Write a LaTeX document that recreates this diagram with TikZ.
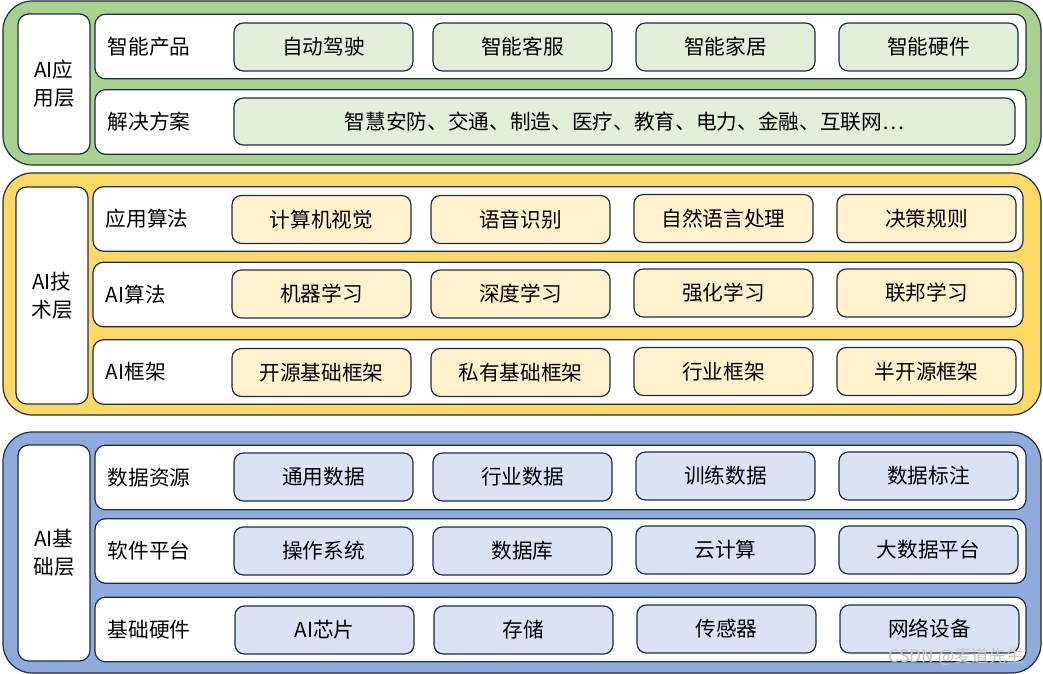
\documentclass[tikz,border=0pt]{standalone}
\usepackage{fontspec}
\setmainfont{Noto Sans CJK SC}
\definecolor{edge}{HTML}{1F2B47}
\definecolor{gpanel}{HTML}{A9D18E}
\definecolor{gitem}{HTML}{E2EFDA}
\definecolor{ypanel}{HTML}{FFD966}
\definecolor{yitem}{HTML}{FFF2CC}
\definecolor{bpanel}{HTML}{8FAADC}
\definecolor{bitem}{HTML}{DAE3F3}
\tikzset{
  base/.style={draw=edge, line width=0.9pt, inner sep=0pt, outer sep=0pt, font=\fontsize{15.5}{19}\selectfont},
  panel/.style={base, rounded corners=22pt, minimum width=778.5pt},
  labelbox/.style={base, fill=white, rounded corners=8pt, minimum width=54pt, align=center},
  rowbox/.style={base, fill=white, rounded corners=8pt, minimum height=48.5pt},
  itembox/.style={base, rounded corners=7pt, minimum width=134.25pt, minimum height=36pt},
  rowlabel/.style={inner sep=0pt, anchor=west, font=\fontsize{15.5}{19}\selectfont}
}
\begin{document}
\begin{tikzpicture}[x=0.75pt,y=-0.75pt]
\useasboundingbox[fill=white] (0,0) rectangle (1043,674);
% ===== green =====
\node[panel, fill=gpanel, minimum height=123pt] (gp) at (522,83) {};
\node[labelbox, minimum height=105pt] (gl) at (54,84) {AI应\\[2pt]用层};
\node[rowbox, minimum width=698.25pt] (gr1) at (560.5,46.5) {};
\node[rowbox, minimum width=698.25pt] (gr2) at (560.5,122) {};
\node[rowlabel] (grl1) at ([xshift=9.5pt]gr1.west) {智能产品};
\node[rowlabel] (grl2) at ([xshift=9.5pt]gr2.west) {解决方案};
\node[itembox, fill=gitem] (g1) at (323.5,47) {自动驾驶};
\node[itembox, fill=gitem] (g2) at (522.5,47) {智能客服};
\node[itembox, fill=gitem] (g3) at (725.5,47) {智能家居};
\node[itembox, fill=gitem] (g4) at (928.5,47) {智能硬件};
\node[itembox, fill=gitem, minimum width=585.75pt, minimum height=35.25pt] (g5) at (624.5,121.5) {智慧安防、交通、制造、医疗、教育、电力、金融、互联网…};
% ===== yellow =====
\node[panel, fill=ypanel, minimum height=181.5pt] (yp) at (522,294) {};
\node[labelbox, minimum height=162.75pt] (yl) at (52,295.5) {AI技\\[2pt]术层};
\node[rowbox, minimum width=697.5pt] (yr1) at (558,219) {};
\node[rowbox, minimum width=697.5pt] (yr2) at (558,294.5) {};
\node[rowbox, minimum width=697.5pt] (yr3) at (558,372) {};
\node[rowlabel] (yrl1) at ([xshift=9.5pt]yr1.west) {应用算法};
\node[rowlabel] (yrl2) at ([xshift=9.5pt]yr2.west) {AI算法};
\node[rowlabel] (yrl3) at ([xshift=9.5pt]yr3.west) {AI框架};
\node[itembox, fill=yitem] (y1) at (321.5,219.5) {计算机视觉};
\node[itembox, fill=yitem] (y2) at (520.5,219.5) {语音识别};
\node[itembox, fill=yitem] (y3) at (723.5,218.5) {自然语言处理};
\node[itembox, fill=yitem] (y4) at (926.5,218.5) {决策规则};
\node[itembox, fill=yitem] (y5) at (321.5,294) {机器学习};
\node[itembox, fill=yitem] (y6) at (520.5,294) {深度学习};
\node[itembox, fill=yitem] (y7) at (723.5,293) {强化学习};
\node[itembox, fill=yitem] (y8) at (926.5,293) {联邦学习};
\node[itembox, fill=yitem] (y9) at (321.5,372.5) {开源基础框架};
\node[itembox, fill=yitem] (y10) at (520.5,372.5) {私有基础框架};
\node[itembox, fill=yitem] (y11) at (723.5,371.5) {行业框架};
\node[itembox, fill=yitem] (y12) at (926.5,371.5) {半开源框架};
% ===== blue =====
\node[panel, fill=bpanel, minimum height=180.75pt] (bp) at (522,552.5) {};
\node[labelbox, minimum height=162pt] (bl) at (54,553) {AI基\\[2pt]础层};
\node[rowbox, minimum width=698.25pt] (br1) at (560.5,477.5) {};
\node[rowbox, minimum width=698.25pt] (br2) at (560.5,551) {};
\node[rowbox, minimum width=698.25pt] (br3) at (560.5,629.5) {};
\node[rowlabel] (brl1) at ([xshift=9.5pt]br1.west) {数据资源};
\node[rowlabel] (brl2) at ([xshift=9.5pt]br2.west) {软件平台};
\node[rowlabel] (brl3) at ([xshift=9.5pt]br3.west) {基础硬件};
\node[itembox, fill=bitem] (b1) at (323.5,477) {通用数据};
\node[itembox, fill=bitem] (b2) at (522.5,477) {行业数据};
\node[itembox, fill=bitem] (b3) at (725.5,476) {训练数据};
\node[itembox, fill=bitem] (b4) at (928.5,476) {数据标注};
\node[itembox, fill=bitem] (b5) at (323.5,551) {操作系统};
\node[itembox, fill=bitem] (b6) at (522.5,551) {数据库};
\node[itembox, fill=bitem] (b7) at (725.5,550) {云计算};
\node[itembox, fill=bitem] (b8) at (928.5,550) {大数据平台};
\node[itembox, fill=bitem] (b9) at (324.5,630) {AI芯片};
\node[itembox, fill=bitem] (b10) at (523.5,630) {存储};
\node[itembox, fill=bitem] (b11) at (726.5,629) {传感器};
\node[itembox, fill=bitem] (b12) at (929.5,629) {网络设备};
% watermark
\node[inner sep=0pt, text=black!22, font=\fontsize{13}{15}\selectfont, anchor=east] (wm) at (1024,657) {CSDN @麦道先生};
\end{tikzpicture}
\end{document}
